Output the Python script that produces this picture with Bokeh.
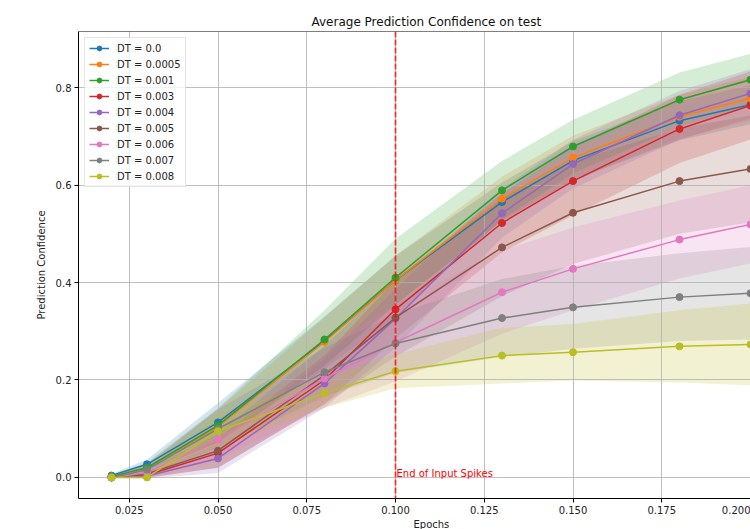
import numpy as np
from bokeh.plotting import figure
from bokeh.models import (Range1d, FixedTicker, NumeralTickFormatter, Legend,
                          LegendItem, Span, Label, Title)
from bokeh.embed import file_html
from bokeh.resources import INLINE

# ---------------- data ----------------
epochs = [0.02, 0.03, 0.05, 0.08, 0.10, 0.13, 0.15, 0.18, 0.20]

dt_labels = ["DT = 0.0", "DT = 0.0005", "DT = 0.001", "DT = 0.003", "DT = 0.004",
             "DT = 0.005", "DT = 0.006", "DT = 0.007", "DT = 0.008"]

colors = ["#1f77b4", "#ff7f0e", "#2ca02c", "#d62728", "#9467bd",
          "#8c564b", "#e377c2", "#7f7f7f", "#bcbd22"]

mean_dt_0000 = [0.004, 0.027, 0.113, 0.280, 0.405, 0.565, 0.650, 0.732, 0.765]
mean_dt_0005 = [0.002, 0.020, 0.105, 0.278, 0.405, 0.572, 0.656, 0.740, 0.778]
mean_dt_0010 = [0.002, 0.020, 0.107, 0.283, 0.410, 0.589, 0.679, 0.775, 0.816]
mean_dt_0030 = [0.000, 0.005, 0.050, 0.200, 0.345, 0.522, 0.608, 0.715, 0.763]
mean_dt_0040 = [0.000, 0.003, 0.039, 0.193, 0.326, 0.542, 0.643, 0.743, 0.788]
mean_dt_0050 = [0.000, 0.008, 0.055, 0.210, 0.328, 0.472, 0.543, 0.608, 0.633]
mean_dt_0060 = [0.000, 0.010, 0.078, 0.203, 0.277, 0.380, 0.428, 0.488, 0.519]
mean_dt_0070 = [0.000, 0.016, 0.100, 0.216, 0.275, 0.327, 0.349, 0.370, 0.378]
mean_dt_0080 = [0.000, 0.000, 0.095, 0.173, 0.218, 0.250, 0.257, 0.269, 0.273]

std_dt_0000 = [0.003, 0.010, 0.040, 0.050, 0.050, 0.040, 0.040, 0.040, 0.040]
std_dt_0005 = [0.002, 0.008, 0.035, 0.050, 0.050, 0.045, 0.045, 0.045, 0.045]
std_dt_0010 = [0.003, 0.010, 0.035, 0.060, 0.080, 0.060, 0.055, 0.056, 0.053]
std_dt_0030 = [0.001, 0.006, 0.030, 0.050, 0.060, 0.060, 0.070, 0.070, 0.070]
std_dt_0040 = [0.001, 0.005, 0.030, 0.050, 0.060, 0.050, 0.050, 0.050, 0.050]
std_dt_0050 = [0.001, 0.008, 0.035, 0.060, 0.080, 0.100, 0.105, 0.108, 0.110]
std_dt_0060 = [0.001, 0.010, 0.040, 0.060, 0.080, 0.085, 0.085, 0.080, 0.080]
std_dt_0070 = [0.001, 0.010, 0.040, 0.050, 0.060, 0.080, 0.085, 0.090, 0.095]
std_dt_0080 = [0.000, 0.000, 0.035, 0.030, 0.035, 0.057, 0.058, 0.074, 0.084]

means = [mean_dt_0000, mean_dt_0005, mean_dt_0010, mean_dt_0030, mean_dt_0040,
         mean_dt_0050, mean_dt_0060, mean_dt_0070, mean_dt_0080]
stds = [std_dt_0000, std_dt_0005, std_dt_0010, std_dt_0030, std_dt_0040,
        std_dt_0050, std_dt_0060, std_dt_0070, std_dt_0080]

x_ticks = [0.025, 0.050, 0.075, 0.100, 0.125, 0.150, 0.175, 0.200]
y_ticks = [0.0, 0.2, 0.4, 0.6, 0.8]
input_end = 0.1

FONT = "DejaVu Sans"

# ---------------- figure ----------------
p = figure(width=750, height=529, output_backend="svg", toolbar_location=None,
           x_range=Range1d(0.0107, 0.2), y_range=Range1d(-0.0431, 0.9149),
           min_border_left=78, min_border_right=0, min_border_top=31,
           min_border_bottom=29)
p.outline_line_color = None
p.background_fill_color = "white"
p.border_fill_color = "white"

p.title.text = "Average Prediction Confidence on test"
p.title.text_font = FONT
p.title.text_font_size = "12px"
p.title.text_font_style = "normal"
p.title.text_color = "#111111"
p.title.align = "left"
p.title.offset = 233
p.title.standoff = 6

for ax in (p.xaxis[0], p.yaxis[0]):
    ax.axis_line_color = "black"
    ax.axis_line_width = 1
    ax.major_tick_line_color = "black"
    ax.major_tick_in = 0
    ax.major_tick_out = 4
    ax.minor_tick_line_color = None
    ax.major_label_text_font = FONT
    ax.major_label_text_font_size = "10px"
    ax.major_label_text_color = "#222222"
    ax.major_label_standoff = 3

p.xaxis.ticker = FixedTicker(ticks=x_ticks)
p.xaxis.formatter = NumeralTickFormatter(format="0.000")
p.yaxis.ticker = FixedTicker(ticks=y_ticks)
p.yaxis.formatter = NumeralTickFormatter(format="0.0")
p.yaxis.axis_label = "Prediction Confidence"
p.yaxis.axis_label_text_font = FONT
p.yaxis.axis_label_text_font_size = "10px"
p.yaxis.axis_label_text_font_style = "normal"
p.yaxis.axis_label_text_color = "#222222"
p.yaxis.axis_label_standoff = 6

for g in (p.xgrid[0], p.ygrid[0]):
    g.grid_line_color = "#b0b0b0"
    g.grid_line_width = 0.8

# fills first (below grid), then lines
for m, s, c in zip(means, stds, colors):
    m_arr = np.array(m)
    s_arr = np.array(s)
    p.varea(x=epochs, y1=m_arr - s_arr, y2=m_arr + s_arr,
            fill_color=c, fill_alpha=0.2, level="image")

items = []
for lab, m, c in zip(dt_labels, means, colors):
    r_line = p.line(epochs, m, line_color=c, line_width=1.5)
    r_pts = p.scatter(epochs, m, marker="circle", size=7, fill_color=c,
                      line_color=c)
    items.append(LegendItem(label=lab, renderers=[r_line, r_pts]))

p.add_layout(Span(location=input_end, dimension="height", line_color="red",
                  line_dash="6 2", line_width=1.8, line_alpha=0.75))
p.add_layout(Label(x=input_end, y=0.009, text="End of Input Spikes",
                   text_color="red", text_font=FONT, text_font_size="10px",
                   text_baseline="alphabetic", text_align="left", x_offset=1))

# top spine
p.add_layout(Span(location=0.9149, dimension="width", line_color="black",
                  line_width=1))

# x axis label, centred under the full axes
p.add_layout(Title(text="Epochs", align="left", offset=335, standoff=0,
                   text_font=FONT, text_font_size="10px",
                   text_font_style="normal", text_color="#222222"), "below")

legend = Legend(items=items, location="top_left", margin=6, padding=4,
                spacing=4, glyph_width=20, glyph_height=12, label_height=12,
                label_standoff=8, label_text_font=FONT,
                label_text_font_size="10px", label_text_color="#222222",
                border_line_color="#cccccc", border_line_width=1,
                background_fill_color="white", background_fill_alpha=0.8)
p.add_layout(legend)

open("out.html", "w").write(file_html(p, INLINE))
